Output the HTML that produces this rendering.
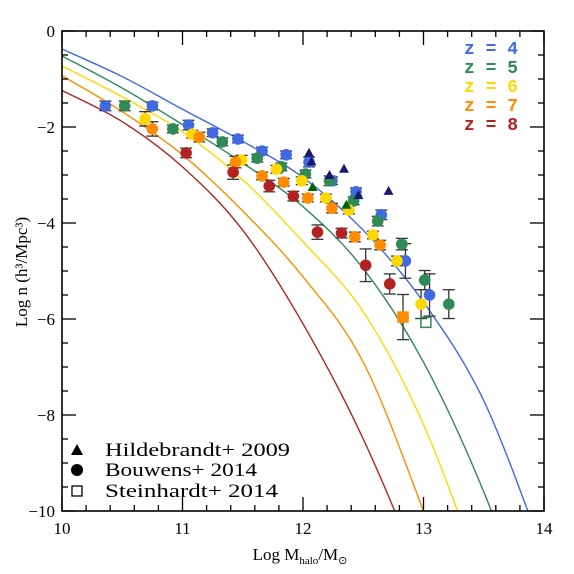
<!DOCTYPE html>
<html><head><meta charset="utf-8"><style>
html,body{margin:0;padding:0;background:#fff;overflow:hidden;width:574px;height:574px;}
svg{display:block;font-family:"Liberation Serif",serif;}
</style></head><body>
<svg id="chart" width="574" height="574" viewBox="0 0 574 574">
<g id="curves"></g>
<g id="axes"></g>
<g id="points"></g>
<g font-family="Liberation Mono, monospace" font-size="18" font-weight="bold">
<text x="464" y="54" fill="#4169e1" xml:space="preserve">z = 4</text>
<text x="464" y="73" fill="#2e8b57" xml:space="preserve">z = 5</text>
<text x="464" y="92" fill="#ffd700" xml:space="preserve">z = 6</text>
<text x="464" y="111" fill="#ff8c00" xml:space="preserve">z = 7</text>
<text x="464" y="130" fill="#b22222" xml:space="preserve">z = 8</text>
</g>
<g font-size="19">
<polygon points="77,444 83,455 71,455" fill="#000"/>
<text x="105" y="456" textLength="185" lengthAdjust="spacingAndGlyphs">Hildebrandt+ 2009</text>
<circle cx="77" cy="470" r="6" fill="#000"/>
<text x="105" y="476" textLength="152" lengthAdjust="spacingAndGlyphs">Bouwens+ 2014</text>
<rect x="72" y="486" width="10" height="10" fill="none" stroke="#000" stroke-width="1.3"/>
<text x="105" y="497" textLength="173" lengthAdjust="spacingAndGlyphs">Steinhardt+ 2014</text>
</g>
<text x="300" y="560" text-anchor="middle" font-size="17">Log M<tspan font-size="11" dy="4">halo</tspan><tspan dy="-4">/M</tspan><tspan font-size="11" dy="4">⊙</tspan></text>
<text transform="translate(27,272) rotate(-90)" text-anchor="middle" font-size="17">Log n (h³/Mpc³)</text>
</svg>
<script>
const curveX = [10,10.5,11,11.5,12,12.5,13,13.5,14];
const curveZ4 = [-0.375,-0.95,-1.63,-2.3,-3.05,-4.15,-5.65,-7.7,-10.9];
const curveZ5 = [-0.52,-1.19,-1.95,-2.75,-3.66,-4.95,-6.9,-9.6,-13];
const curveZ6 = [-0.73,-1.37,-2.1,-3.1,-4.39,-5.85,-8.2,-11.5,-15];
const curveZ7 = [-0.93,-1.68,-2.58,-3.75,-5.12,-6.9,-10,-13.5,-17];
const curveZ8 = [-1.24,-1.89,-2.83,-4.15,-6.1,-8.5,-11.5,-15,-19];

const z4X = [10.36,10.75,11.05,11.25,11.46,11.66,11.86,12.05,12.24,12.44,12.65,12.85,13.05];
const z4Y = [-1.56,-1.56,-1.96,-2.12,-2.25,-2.5,-2.58,-2.73,-3.12,-3.35,-3.83,-4.79,-5.5];
const z4E = [0.1,0.08,0.1,0.08,0.08,0.08,0.08,0.1,0.08,0.08,0.1,0.36,0.44];
const z5X = [10.52,10.92,11.33,11.62,11.82,12.02,12.22,12.42,12.62,12.82,13.01,13.21];
const z5Y = [-1.56,-2.04,-2.31,-2.65,-2.83,-2.98,-3.12,-3.54,-3.96,-4.44,-5.19,-5.69];
const z5E = [0.1,0.08,0.08,0.08,0.08,0.08,0.1,0.08,0.1,0.12,0.2,0.3];
const z6X = [10.69,11.08,11.49,11.78,11.99,12.19,12.38,12.58,12.78,12.98];
const z6Y = [-1.83,-2.15,-2.69,-2.88,-3.12,-3.48,-3.73,-4.25,-4.79,-5.69];
const z6E = [0.15,0.08,0.1,0.08,0.08,0.08,0.08,0.08,0.1,0.3];
const z7X = [10.75,11.14,11.44,11.66,11.84,12.04,12.24,12.43,12.64,12.83];
const z7Y = [-2.04,-2.21,-2.73,-3.02,-3.15,-3.48,-3.69,-4.29,-4.46,-5.96];
const z7E = [0.15,0.1,0.12,0.08,0.08,0.08,0.1,0.1,0.1,0.47];
const z8X = [11.03,11.42,11.72,11.92,12.12,12.32,12.52,12.72];
const z8Y = [-2.54,-2.94,-3.23,-3.44,-4.19,-4.21,-4.88,-5.27];
const z8E = [0.1,0.15,0.12,0.1,0.15,0.1,0.34,0.21];
const triX = [12.05,12.07,12.22,12.34,12.46,12.71,12.08,12.36];
const triY = [-2.54,-2.72,-3.0,-2.87,-3.42,-3.33,-3.25,-3.62];
const triC = ["#191970","#191970","#191970","#191970","#191970","#191970","#006400","#006400"];
const sqX = [12.83,13.02];
const sqY = [-5.96,-6.07];
const sqC = ["#ff8c00","#2e8b57"];
const xTicks = [10,11,12,13,14];
const yTicks = [0,-2,-4,-6,-8,-10];

const NS="http://www.w3.org/2000/svg";
const L=62,R=544,T=31,B=511;
const sx=v=>L+(v-10)*(R-L)/4;
const sy=v=>T+(0-v)*(B-T)/10;
function mk(tag,attrs,parent){const e=document.createElementNS(NS,tag);for(const k in attrs)e.setAttribute(k,attrs[k]);parent.appendChild(e);return e;}

const defs=mk('defs',{},document.getElementById('chart'));
const cp=mk('clipPath',{id:'plotclip'},defs);
mk('rect',{x:L,y:T,width:R-L,height:B-T},cp);

const cg=document.getElementById('curves');
cg.setAttribute('clip-path','url(#plotclip)');
const curveSets=[[curveZ4,'#4169e1','z4'],[curveZ5,'#2e8b57','z5'],[curveZ6,'#ffd700','z6'],[curveZ7,'#ff8c00','z7'],[curveZ8,'#b22222','z8']];
curveSets.forEach(([ys,col,nm])=>{
  const pts=curveX.map((x,i)=>[sx(x),sy(ys[i])]);
  let d='M'+pts[0][0]+','+pts[0][1];
  for(let i=0;i<pts.length-1;i++){
    const p0=pts[Math.max(0,i-1)],p1=pts[i],p2=pts[i+1],p3=pts[Math.min(pts.length-1,i+2)];
    const c1=[p1[0]+(p2[0]-p0[0])/6,p1[1]+(p2[1]-p0[1])/6];
    const c2=[p2[0]-(p3[0]-p1[0])/6,p2[1]-(p3[1]-p1[1])/6];
    d+=` C${c1[0]},${c1[1]} ${c2[0]},${c2[1]} ${p2[0]},${p2[1]}`;
  }
  const p=mk('path',{d:d,fill:'none',stroke:col,'stroke-width':1.4},cg);
  
  
});

const ag=document.getElementById('axes');
const frame=mk('rect',{x:L,y:T,width:R-L,height:B-T,fill:'none',stroke:'#000','stroke-width':1.6},ag);


for(let v=10;v<=14.001;v+=0.2){
  const maj=Math.abs(v-Math.round(v))<1e-6, len=maj?14:6, X=sx(v);
  mk('line',{x1:X,y1:B,x2:X,y2:B-len,stroke:'#000','stroke-width':1.3},ag);
  mk('line',{x1:X,y1:T,x2:X,y2:T+len,stroke:'#000','stroke-width':1.3},ag);
}
for(let v=0;v>=-10.001;v-=0.5){
  const maj=Math.abs(v/2-Math.round(v/2))<1e-6, len=maj?14:6, Y=sy(v);
  mk('line',{x1:L,y1:Y,x2:L+len,y2:Y,stroke:'#000','stroke-width':1.3},ag);
  mk('line',{x1:R,y1:Y,x2:R-len,y2:Y,stroke:'#000','stroke-width':1.3},ag);
}
xTicks.forEach(v=>{
  const t=mk('text',{x:sx(v),y:B+23,'text-anchor':'middle','font-size':17},ag);
  t.textContent=String(v);
  
  
});
yTicks.forEach(v=>{
  const t=mk('text',{x:L-7,y:sy(v)+6,'text-anchor':'end','font-size':17},ag);
  t.textContent=v===0?'0':'\u2212'+Math.abs(v);
  
  
});

const pg=document.getElementById('points');
const sets=[[z4X,z4Y,z4E,'#4169e1','z4'],[z5X,z5Y,z5E,'#2e8b57','z5'],[z6X,z6Y,z6E,'#ffd700','z6'],[z7X,z7Y,z7E,'#ff8c00','z7'],[z8X,z8Y,z8E,'#b22222','z8']];
sets.forEach(([xs,ys,es,col,nm])=>{
  xs.forEach((x,i)=>{
    const X=sx(x),Y1=sy(ys[i]+es[i]),Y2=sy(ys[i]-es[i]);
    const g=mk('g',{stroke:'#333','stroke-width':1.3},pg);
    
    
    mk('line',{x1:X,y1:Y1,x2:X,y2:Y2},g);
    mk('line',{x1:X-6,y1:Y1,x2:X+6,y2:Y1},g);
    mk('line',{x1:X-6,y1:Y2,x2:X+6,y2:Y2},g);
  });
});
sets.forEach(([xs,ys,es,col,nm])=>{
  xs.forEach((x,i)=>{
    const c=mk('circle',{cx:sx(x),cy:sy(ys[i]),r:5.8,fill:col},pg);
    
    
  });
});
triX.forEach((x,i)=>{
  const X=sx(x),Y=sy(triY[i]);
  const p=mk('polygon',{points:`${X},${Y-5} ${X+5},${Y+4} ${X-5},${Y+4}`,fill:triC[i]},pg);
  
  
});
sqX.forEach((x,i)=>{
  const X=sx(x),Y=sy(sqY[i]);
  const r=mk('rect',{x:X-5,y:Y-5,width:10,height:10,fill:i===0?sqC[i]:'none',stroke:sqC[i],'stroke-width':1.5},pg);
  
  
});
</script>
</body></html>
